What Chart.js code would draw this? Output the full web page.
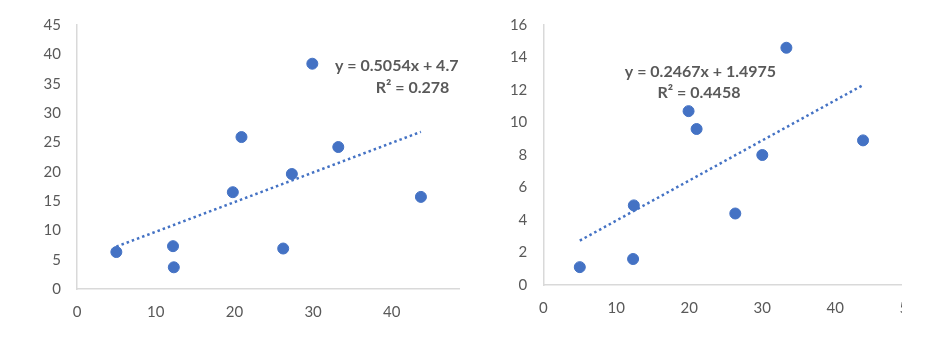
<!DOCTYPE html>
<html>
<head>
<meta charset="utf-8">
<script src="https://cdn.jsdelivr.net/npm/chart.js@4.4.1/dist/chart.umd.min.js"></script>
<style>
    html, body { margin: 0; padding: 0; background: #fff; }
    body { width: 934px; height: 341px; position: relative; overflow: hidden; }
    .wrap { position: absolute; top: 0; height: 341px; overflow: hidden; }
    #wl { left: 0; width: 460px; }
    #wr { left: 464px; width: 438px; }
    .wrap canvas { position: absolute; left: 0; top: 0; }
</style>
</head>
<body>
<div class="wrap" id="wl"><canvas id="cl" width="500" height="341"></canvas></div>
<div class="wrap" id="wr"><canvas id="cr" width="480" height="341"></canvas></div>
<script>
// left chart values
var leftX = [5, 12.2, 12.3, 19.8, 20.9, 26.2, 27.3, 29.9, 33.2, 43.7];
var leftY = [6.3, 7.3, 3.7, 16.5, 25.9, 6.9, 19.6, 38.4, 24.2, 15.7];
var leftSlope = 0.5054, leftIntercept = 4.7;
var leftEq = ["y = 0.5054x + 4.7", "R\u00b2 = 0.278"];

// right chart values
var rightX = [5, 12.3, 12.4, 19.9, 21.0, 26.3, 30.0, 33.3, 43.8];
var rightY = [1.1, 1.6, 4.9, 10.7, 9.6, 4.4, 8.0, 14.6, 8.9];
var rightSlope = 0.2467, rightIntercept = 1.4975;
var rightEq = ["y = 0.2467x + 1.4975", "R\u00b2 = 0.4458"];

var BLUE = "#4472C4";
var GREY = "#595959";
var AXIS = "#d9d9d9";

function points(xs, ys) {
    var out = [];
    for (var i = 0; i < xs.length; i++) out.push({ x: xs[i], y: ys[i] });
    return out;
}

function trend(xs, m, b) {
    var lo = Math.min.apply(null, xs), hi = Math.max.apply(null, xs);
    return [{ x: lo, y: m * lo + b }, { x: hi, y: m * hi + b }];
}

// draws the trendline equation text at pixel spots
function eqPlugin(lines) {
    return {
        id: "eq",
        afterDraw: function (chart) {
            var ctx = chart.ctx;
            ctx.save();
            ctx.fillStyle = GREY;
            ctx.font = "bold 16px Lato";
            ctx.textBaseline = "middle";
            for (var i = 0; i < lines.length; i++) {
                ctx.textAlign = lines[i].align;
                ctx.fillText(lines[i].text, lines[i].x, lines[i].y);
            }
            ctx.restore();
        }
    };
}

function makeChart(id, xs, ys, m, b, yMax, yStep, yW, xH, pad, labels) {
    return new Chart(document.getElementById(id), {
        type: "scatter",
        data: {
            datasets: [{
                data: points(xs, ys),
                backgroundColor: BLUE,
                borderColor: BLUE,
                borderWidth: 1,
                pointRadius: 5.5,
                order: 1
            }, {
                type: "line",
                data: trend(xs, m, b),
                borderColor: BLUE,
                borderWidth: 2.5,
                borderDash: [2.5, 3],
                pointRadius: 0,
                fill: false,
                order: 2
            }]
        },
        options: {
            responsive: false,
            animation: false,
            events: [],
            layout: { padding: pad },
            plugins: { legend: { display: false }, tooltip: { enabled: false } },
            scales: {
                x: {
                    type: "linear",
                    min: 0, max: 50,
                    afterFit: function (s) { s.height = xH; },
                    grid: { color: "rgba(0,0,0,0)", drawTicks: false },
                    border: { color: AXIS, width: 1.5 },
                    ticks: { stepSize: 10, color: GREY, font: { family: "Lato", size: 15 }, padding: 14, maxRotation: 0 }
                },
                y: {
                    min: 0, max: yMax,
                    afterFit: function (s) { s.width = yW; },
                    grid: { color: "rgba(0,0,0,0)", drawTicks: false },
                    border: { color: AXIS, width: 1.5 },
                    ticks: { stepSize: yStep, color: GREY, font: { family: "Lato", size: 15 }, padding: 16 }
                }
            }
        },
        plugins: [eqPlugin(labels)]
    });
}

makeChart("cl", leftX, leftY, leftSlope, leftIntercept, 45, 5, 77, 52,
    { top: 25, right: 29.5, bottom: 0, left: 0 },
    [{ text: leftEq[0], x: 335, y: 66, align: "left" },
     { text: leftEq[1], x: 412.5, y: 88, align: "center" }]);

makeChart("cr", rightX, rightY, rightSlope, rightIntercept, 16, 2, 79.3, 56,
    { top: 25, right: 35.7, bottom: 0, left: 0 },
    [{ text: rightEq[0], x: 236.5, y: 71.5, align: "center" },
     { text: rightEq[1], x: 235, y: 93, align: "center" }]);
</script>
</body>
</html>
